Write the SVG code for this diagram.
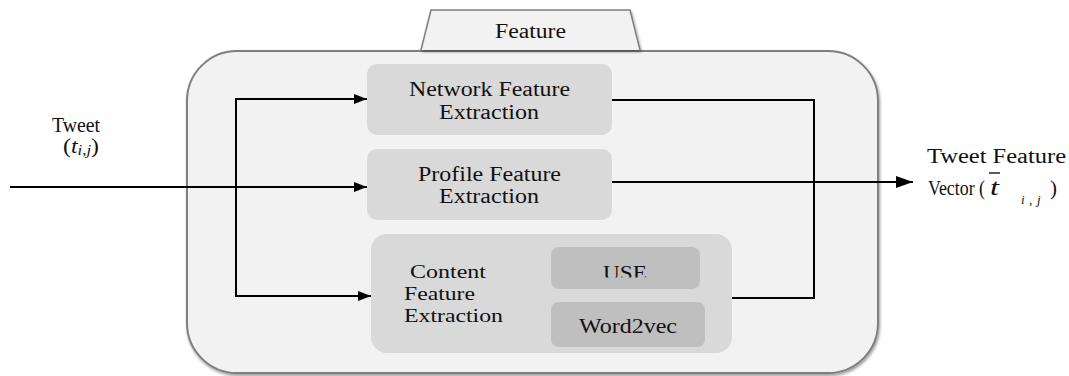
<svg xmlns="http://www.w3.org/2000/svg" width="1069" height="376" viewBox="0 0 1069 376" font-family="'Liberation Serif', 'Times New Roman', serif" font-size="20">
<defs>
<filter id="sh" x="-5%" y="-5%" width="110%" height="115%"><feGaussianBlur in="SourceAlpha" stdDeviation="1.5"/><feOffset dx="1" dy="2"/><feComponentTransfer><feFuncA type="linear" slope="0.4"/></feComponentTransfer><feMerge><feMergeNode/><feMergeNode in="SourceGraphic"/></feMerge></filter>
<marker id="ah" markerWidth="13" markerHeight="10" refX="13" refY="5" orient="auto" markerUnits="userSpaceOnUse"><path d="M0,0 L13,5 L0,10 Z" fill="#000"/></marker>
<marker id="ah2" markerWidth="17" markerHeight="12" refX="17" refY="6" orient="auto" markerUnits="userSpaceOnUse"><path d="M0,0 L17,6 L0,12 Z" fill="#000"/></marker>
<clipPath id="useclip"><rect x="551" y="247" width="149" height="30.5"/></clipPath>
</defs>
<style>
.box{fill:#d9d9d9}
.sub{fill:#bfbfbf}
.ln{fill:none;stroke:#000;stroke-width:2}
.t{fill:#111}
</style>
<rect width="1069" height="376" fill="#fff"/>
<g id="container">
<rect x="187" y="51" width="691" height="322" rx="50" fill="#f2f2f2" stroke="#7f7f7f" stroke-width="2" filter="url(#sh)"/>
</g>
<g id="feature-tab">
<path d="M421,50 L431,10 L630,10 L640,50" fill="#f2f2f2" stroke="#7f7f7f" stroke-width="1.5" filter="url(#sh)"/>
<text class="t" x="495" y="38" textLength="71" lengthAdjust="spacingAndGlyphs">Feature</text>
</g>
<g id="network">
<rect class="box" x="367" y="64" width="245" height="71" rx="10"/>
<text class="t" x="409" y="96" textLength="161" lengthAdjust="spacingAndGlyphs">Network Feature</text>
<text class="t" x="439" y="119" textLength="100" lengthAdjust="spacingAndGlyphs">Extraction</text>
</g>
<g id="profile">
<rect class="box" x="367" y="149" width="245" height="71" rx="10"/>
<text class="t" x="418" y="181" textLength="143" lengthAdjust="spacingAndGlyphs">Profile Feature</text>
<text class="t" x="439" y="203" textLength="100" lengthAdjust="spacingAndGlyphs">Extraction</text>
</g>
<g id="content">
<rect class="box" x="371" y="234" width="361" height="119" rx="16"/>
<text class="t" x="410" y="278" font-size="19" textLength="76" lengthAdjust="spacingAndGlyphs">Content</text>
<text class="t" x="404" y="300" font-size="19" textLength="71" lengthAdjust="spacingAndGlyphs">Feature</text>
<text class="t" x="404" y="322" font-size="19" textLength="99" lengthAdjust="spacingAndGlyphs">Extraction</text>
</g>
<g id="use">
<rect class="sub" x="551" y="247" width="149" height="42" rx="8"/>
<text class="t" x="603" y="280" textLength="44" lengthAdjust="spacingAndGlyphs" clip-path="url(#useclip)">USE</text>
</g>
<g id="word2vec">
<rect class="sub" x="551" y="302" width="154" height="45" rx="8"/>
<text class="t" x="579" y="333" textLength="98" lengthAdjust="spacingAndGlyphs">Word2vec</text>
</g>
<g id="tweet-label">
<text class="t" x="52" y="132" textLength="48" lengthAdjust="spacingAndGlyphs">Tweet</text>
<text class="t" x="63" y="153" font-size="20" textLength="36" lengthAdjust="spacingAndGlyphs">(<tspan font-style="italic">t</tspan><tspan font-style="italic" font-size="14" dy="2">i,j</tspan><tspan dy="-2">)</tspan></text>
</g>
<g id="output-label">
<text class="t" x="927" y="163" textLength="139" lengthAdjust="spacingAndGlyphs">Tweet Feature</text>
<text class="t" x="928" y="195" font-size="20" textLength="57" lengthAdjust="spacingAndGlyphs">Vector (</text>
<text class="t" x="990" y="195" font-size="24" font-style="italic" textLength="9" lengthAdjust="spacingAndGlyphs">t</text>
<text class="t" x="1021" y="204" font-size="13" font-style="italic">i</text>
<text class="t" x="1029" y="204" font-size="13">,</text>
<text class="t" x="1037" y="204" font-size="13" font-style="italic">j</text>
<text class="t" x="1050" y="195" textLength="7" lengthAdjust="spacingAndGlyphs">)</text>
<line x1="989" y1="173" x2="1000" y2="173" stroke="#000" stroke-width="1.3"/>
</g>
<g id="connectors">
<line class="ln" x1="10" y1="187" x2="367" y2="187" marker-end="url(#ah)"/>
<polyline class="ln" points="236,187 236,99 367,99" marker-end="url(#ah)"/>
<polyline class="ln" points="236,187 236,296 371,296" marker-end="url(#ah)"/>
<polyline class="ln" points="612,100 814,100 814,298 732,298"/>
<line class="ln" x1="612" y1="182" x2="913" y2="182" marker-end="url(#ah2)"/>
</g>
</svg>
